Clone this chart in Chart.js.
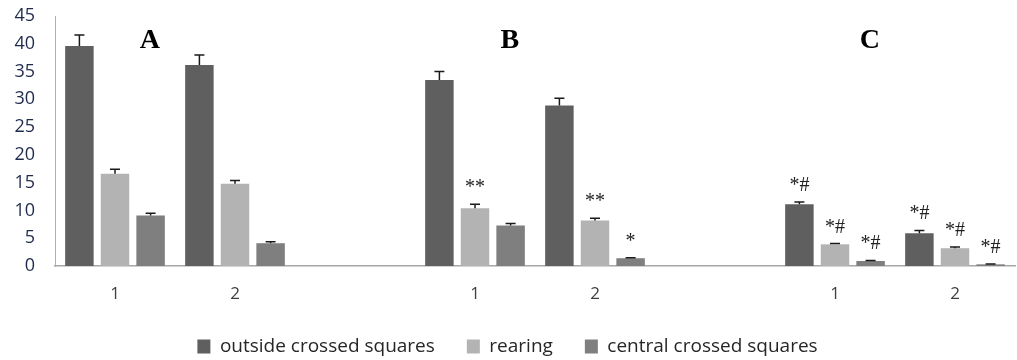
<!DOCTYPE html>
<html>
<head>
<meta charset="utf-8">
<script src="https://cdn.jsdelivr.net/npm/chart.js@4.4.1/dist/chart.umd.min.js"></script>
<style>
  body { margin: 0; background: #fff; }
</style>
</head>
<body>
<canvas id="chart" width="1017" height="360"></canvas>
<script>
// categories: two trials per panel, empty slot between panels
let labels = ['1', '2', '', '1', '2', '', '1', '2'];

let outside = [39.6, 36.2, null, 33.5, 28.9, null, 11.1, 5.9];
let outsideErr = [2.0, 1.8, null, 1.5, 1.3, null, 0.4, 0.5];
let outsideNotes = ['', '', '', '', '', '', '*#', '*#'];

let rearing = [16.6, 14.8, null, 10.4, 8.2, null, 3.9, 3.2];
let rearingErr = [0.8, 0.6, null, 0.7, 0.4, null, 0.15, 0.2];
let rearingNotes = ['', '', '', '**', '**', '', '*#', '*#'];

let central = [9.1, 4.1, null, 7.3, 1.4, null, 0.9, 0.3];
let centralErr = [0.4, 0.25, null, 0.35, 0.1, null, 0.1, 0.05];
let centralNotes = ['', '', '', '', '*', '', '*#', '*#'];

let panelNames = ['A', 'B', 'C'];
let panelStart = [0, 3, 6];

// draws error bars, significance marks and panel letters
const extras = {
    id: 'extras',
    afterDatasetsDraw(chart) {
        const ctx = chart.ctx;
        const yScale = chart.scales.y;
        const xScale = chart.scales.x;
        ctx.save();
        chart.data.datasets.forEach((ds, i) => {
            const meta = chart.getDatasetMeta(i);
            meta.data.forEach((bar, j) => {
                const v = ds.data[j];
                const e = ds.err[j];
                if (v == null) return;
                const top = yScale.getPixelForValue(v + (e || 0));
                ctx.strokeStyle = '#1a1a1a';
                ctx.lineWidth = 1.5;
                ctx.beginPath();
                ctx.moveTo(bar.x, bar.y);
                ctx.lineTo(bar.x, top);
                ctx.moveTo(bar.x - 5, top);
                ctx.lineTo(bar.x + 5, top);
                ctx.stroke();
                if (ds.notes[j]) {
                    ctx.fillStyle = '#222';
                    ctx.font = '20px "Liberation Serif"';
                    ctx.textAlign = 'center';
                    ctx.textBaseline = 'alphabetic';
                    ctx.fillText(ds.notes[j], bar.x, top - 11);
                }
            });
        });
        ctx.fillStyle = '#000';
        ctx.font = 'bold 28px "Liberation Serif"';
        ctx.textAlign = 'center';
        ctx.textBaseline = 'middle';
        panelNames.forEach((name, k) => {
            const x = xScale.getPixelForValue(panelStart[k] + 0.29);
            const y = yScale.getPixelForValue(40.5);
            ctx.fillText(name, x, y);
        });
        ctx.restore();
    }
};

let datasets = [
    {
        label: 'outside crossed squares',
        data: outside,
        err: outsideErr,
        notes: outsideNotes,
        backgroundColor: '#5f5f5f',
        borderWidth: 0
    },
    {
        label: 'rearing',
        data: rearing,
        err: rearingErr,
        notes: rearingNotes,
        backgroundColor: '#b3b3b3',
        borderWidth: 0
    },
    {
        label: 'central crossed squares',
        data: central,
        err: centralErr,
        notes: centralNotes,
        backgroundColor: '#7f7f7f',
        borderWidth: 0
    }
];

let configAxisX = {
    grid: { display: false, drawTicks: false },
    border: { color: '#a6a6a6', width: 1.5 },
    ticks: {
        color: '#404040',
        padding: 18,
        font: { size: 17, family: 'Open Sans' }
    },
    afterFit: function(scale) { scale.height = 39; }
};

let configAxisY = {
    min: 0,
    max: 45,
    grid: { display: false, drawTicks: false },
    border: { color: '#b0b0b0', width: 1 },
    ticks: {
        stepSize: 5,
        color: '#1f2a4d',
        padding: 20,
        font: { size: 18, family: 'Open Sans' }
    },
    afterFit: function(scale) {
        scale.width = 55;
        scale.paddingTop = 16;
        scale.paddingBottom = 0;
    }
};

new Chart(document.getElementById('chart'), {
    type: 'bar',
    data: {
        labels: labels,
        datasets: datasets
    },
    options: {
        responsive: false,
        animation: false,
        categoryPercentage: 0.89,
        barPercentage: 0.8,
        layout: {
            padding: { top: 0, right: 2, left: 0, bottom: 0 }
        },
        scales: {
            x: configAxisX,
            y: configAxisY
        },
        plugins: {
            tooltip: { enabled: false },
            legend: {
                position: 'bottom',
                maxHeight: 55,
                labels: {
                    boxWidth: 13,
                    boxHeight: 14,
                    padding: 32,
                    color: '#262626',
                    font: { size: 19, family: 'Open Sans' }
                }
            }
        }
    },
    plugins: [extras]
});
</script>
</body>
</html>
